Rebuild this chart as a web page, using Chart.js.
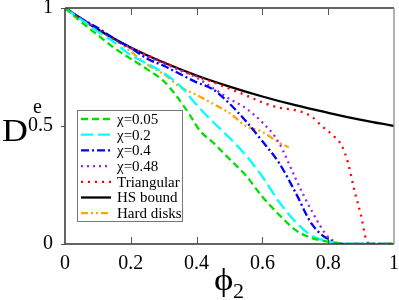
<!DOCTYPE html>
<html lang="en">
<head>
    <meta charset="UTF-8">
    <title>Effective diffusion vs phi2</title>
    <script src="https://cdn.jsdelivr.net/npm/chart.js"></script>
    <style>
        body {
            margin: 0;
            padding: 0;
            background-color: #fff;
        }
        #wrap {
            width: 399px;
            height: 300px;
        }
    </style>
</head>
<body>
    <div id="wrap"><canvas id="deChart" width="399" height="300"></canvas></div>

    <script>
        // values
        const phiGrid = [0, 0.05, 0.1, 0.15, 0.2, 0.25, 0.3, 0.35, 0.4, 0.45, 0.5, 0.55, 0.6, 0.65, 0.7, 0.75, 0.8, 0.85, 0.9, 0.95, 1];

        const phiChi005 = [0, 0.05, 0.1, 0.15, 0.2, 0.25, 0.3, 0.34, 0.38, 0.41, 0.45, 0.5, 0.55, 0.6, 0.65, 0.7, 0.75, 0.8, 0.85, 0.9, 0.95, 1];
        const deChi005 = [1, 0.94, 0.885, 0.83, 0.785, 0.74, 0.69, 0.625, 0.545, 0.48, 0.43, 0.36, 0.29, 0.2, 0.125, 0.06, 0.025, 0.01, 0, 0, 0, 0];

        const deChi02 = [1, 0.95, 0.9, 0.855, 0.8, 0.765, 0.725, 0.67, 0.59, 0.517, 0.45, 0.375, 0.285, 0.18, 0.095, 0.035, 0.012, 0, 0, 0, 0];
        const deChi04 = [1, 0.955, 0.915, 0.87, 0.83, 0.785, 0.755, 0.72, 0.685, 0.655, 0.595, 0.52, 0.435, 0.345, 0.22, 0.085, 0.02, 0, 0, 0, 0];
        const deChi048 = [1, 0.955, 0.91, 0.87, 0.83, 0.795, 0.765, 0.735, 0.705, 0.66, 0.615, 0.575, 0.515, 0.43, 0.28, 0.14, 0.03, 0, 0, 0, 0];

        const phiTri = [0, 0.05, 0.1, 0.15, 0.2, 0.25, 0.3, 0.35, 0.4, 0.45, 0.5, 0.55, 0.6, 0.65, 0.7, 0.75, 0.78, 0.8, 0.82, 0.84, 0.86, 0.88, 0.9, 0.915, 0.93, 0.96, 1];
        const deTri = [1, 0.95, 0.91, 0.865, 0.83, 0.8, 0.77, 0.74, 0.71, 0.686, 0.658, 0.63, 0.6, 0.578, 0.567, 0.54, 0.5, 0.478, 0.453, 0.42, 0.345, 0.225, 0.12, 0.02, 0, 0, 0];

        const phiHS = [0, 0.1, 0.2, 0.3, 0.4, 0.5, 0.6, 0.7, 0.8, 0.9, 1];
        const deHS = [1, 0.909, 0.833, 0.769, 0.714, 0.667, 0.625, 0.588, 0.556, 0.526, 0.5];

        const phiHD = [0, 0.05, 0.1, 0.15, 0.2, 0.25, 0.3, 0.35, 0.4, 0.45, 0.5, 0.55, 0.6, 0.65, 0.68];
        const deHD = [1, 0.955, 0.91, 0.87, 0.815, 0.76, 0.72, 0.665, 0.632, 0.594, 0.555, 0.5, 0.475, 0.43, 0.41];

        const seriesLabels = ['\u03c7=0.05', '\u03c7=0.2', '\u03c7=0.4', '\u03c7=0.48', 'Triangular', 'HS bound', 'Hard disks'];
        const xTicks = [0, 0.2, 0.4, 0.6, 0.8, 1];
        const yTicks = [0, 0.5, 1];

        function pts(xs, ys) {
            return xs.map((x, i) => ({ x: x, y: ys[i] }));
        }

        function tickText(v) {
            return String(Math.round(v * 10) / 10);
        }

        const serif = '"Liberation Serif", "DejaVu Serif", serif';

        // frame, inward ticks, axis titles and the boxed legend
        const decorations = {
            id: 'decorations',
            afterDraw(chart) {
                const c = chart.ctx;
                const a = chart.chartArea;
                const xs = chart.scales.x;
                const ys = chart.scales.y;
                c.save();

                c.lineWidth = 1.5;
                c.strokeStyle = '#333';
                c.beginPath();
                c.moveTo(a.left, a.top);
                c.lineTo(a.left, a.bottom);
                c.lineTo(a.right, a.bottom);
                c.moveTo(a.left, a.top);
                c.lineTo(a.right, a.top);
                c.stroke();
                c.strokeStyle = '#999';
                c.beginPath();
                c.moveTo(a.right, a.top);
                c.lineTo(a.right, a.bottom);
                c.stroke();

                c.strokeStyle = '#555';
                c.lineWidth = 1;
                xTicks.slice(1, -1).forEach(v => {
                    const px = Math.round(xs.getPixelForValue(v)) + 0.5;
                    c.beginPath();
                    c.moveTo(px, a.bottom);
                    c.lineTo(px, a.bottom - 7);
                    c.moveTo(px, a.top);
                    c.lineTo(px, a.top + 7);
                    c.stroke();
                });
                yTicks.forEach(v => {
                    const py = Math.round(ys.getPixelForValue(v)) + 0.5;
                    c.beginPath();
                    c.moveTo(a.left - 4, py);
                    c.lineTo(a.left, py);
                    c.stroke();
                });

                // axis titles (the reference text is stretched sideways)
                c.fillStyle = '#000';
                c.textBaseline = 'alphabetic';
                c.textAlign = 'left';
                c.save();
                c.translate(2, 141);
                c.scale(1.12, 1);
                c.font = '32px ' + serif;
                c.fillText('D', 0, 0);
                c.restore();
                c.font = '20px ' + serif;
                c.fillText('e', 33, 113);
                c.save();
                c.translate(214, 290);
                c.scale(1.15, 1);
                c.font = '32px ' + serif;
                c.fillText('\u03d5', 0, 0);
                c.restore();
                c.font = '22px ' + serif;
                c.fillText('2', 233, 298);

                // legend box
                const lx = 77, ly = 110, lw = 105, lh = 111;
                c.fillStyle = '#fff';
                c.fillRect(lx, ly, lw, lh);
                c.strokeStyle = '#777';
                c.lineWidth = 1;
                c.strokeRect(lx + 0.5, ly + 0.5, lw, lh);
                c.font = '15px ' + serif;
                c.textBaseline = 'middle';
                chart.data.datasets.forEach((ds, i) => {
                    const ry = 119 + i * 15.7;
                    c.strokeStyle = ds.borderColor;
                    c.lineWidth = ds.borderWidth;
                    c.setLineDash(ds.borderDash || []);
                    c.beginPath();
                    c.moveTo(81, ry);
                    c.lineTo(111, ry);
                    c.stroke();
                    c.setLineDash([]);
                    c.fillStyle = '#000';
                    c.fillText(ds.label, 117, ry + 1);
                });
                c.restore();
            }
        };

        const ctx = document.getElementById('deChart').getContext('2d');
        const deChart = new Chart(ctx, {
            type: 'line',
            data: {
                datasets: [
                    { label: seriesLabels[0], data: pts(phiChi005, deChi005), borderColor: '#00e000', borderWidth: 2.3, borderDash: [7, 4] },
                    { label: seriesLabels[1], data: pts(phiGrid, deChi02), borderColor: '#00ffff', borderWidth: 2.3, borderDash: [12, 5] },
                    { label: seriesLabels[2], data: pts(phiGrid, deChi04), borderColor: '#0000ff', borderWidth: 2.3, borderDash: [8, 3, 2, 3] },
                    { label: seriesLabels[3], data: pts(phiGrid, deChi048), borderColor: '#a020f0', borderWidth: 2.3, borderDash: [2, 4] },
                    { label: seriesLabels[4], data: pts(phiTri, deTri), borderColor: '#ff0000', borderWidth: 2.3, borderDash: [2, 5] },
                    { label: seriesLabels[5], data: pts(phiHS, deHS), borderColor: '#000000', borderWidth: 2.3 },
                    { label: seriesLabels[6], data: pts(phiHD, deHD), borderColor: '#ffa500', borderWidth: 2.3, borderDash: [7, 3, 2, 3, 2, 3] }
                ]
            },
            options: {
                responsive: false,
                animation: false,
                layout: { padding: { top: 8, right: 5, left: 0, bottom: 0 } },
                elements: {
                    point: { radius: 0 },
                    line: { cubicInterpolationMode: 'monotone', fill: false }
                },
                plugins: {
                    legend: { display: false },
                    tooltip: { enabled: false }
                },
                scales: {
                    x: {
                        type: 'linear',
                        min: 0,
                        max: 1,
                        afterBuildTicks: s => { s.ticks = xTicks.map(v => ({ value: v })); },
                        afterFit: s => { s.height = 56; s.paddingLeft = 0; s.paddingRight = 0; },
                        ticks: { color: '#000', font: { family: serif, size: 20 }, padding: 0, maxRotation: 0, callback: tickText },
                        grid: { display: false },
                        border: { display: false }
                    },
                    y: {
                        min: 0,
                        max: 1,
                        afterBuildTicks: s => { s.ticks = yTicks.map(v => ({ value: v })); },
                        afterFit: s => { s.width = 65; s.paddingTop = 0; s.paddingBottom = 0; },
                        ticks: { color: '#000', font: { family: serif, size: 20 }, padding: 4, callback: tickText },
                        grid: { display: false },
                        border: { display: false }
                    }
                }
            },
            plugins: [decorations]
        });
    </script>
</body>
</html>
